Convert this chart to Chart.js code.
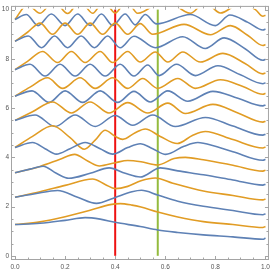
<!DOCTYPE html>
<html>
<head>
<meta charset="utf-8">
<script src="https://cdn.jsdelivr.net/npm/chart.js@4.4.1/dist/chart.umd.min.js"></script>
<style>
  html, body { margin: 0; padding: 0; background: #fff; }
</style>
</head>
<body>
<canvas id="plot" width="273" height="274"></canvas>
<script>
// ticks and marker lines
const xTicks = [0, 0.2, 0.4, 0.6, 0.8, 1.0];
const yTicks = [0, 2, 4, 6, 8, 10];
const redLineX = 0.4;
const greenLineX = 0.57;

// curves as [x, y] pairs (blue / orange pairs, bottom to top)
const blue1 = [[0,1.27],[0.1,1.32],[0.2,1.44],[0.28,1.55],[0.34,1.49],[0.4,1.36],[0.5,1.19],[0.57,1.05],[0.65,0.95],[0.752,0.85],[0.87,0.77],[0.99,0.67],[1,0.72]];
const orange1 = [[0,1.27],[0.1,1.38],[0.2,1.59],[0.3,1.85],[0.38,2.08],[0.42,2.12],[0.467,2.06],[0.503,1.98],[0.57,1.78],[0.65,1.58],[0.752,1.39],[0.87,1.27],[0.99,1.15],[1,1.19]];
const blue2 = [[0,2.38],[0.08,2.52],[0.17,2.65],[0.25,2.38],[0.325,2.13],[0.4,2.37],[0.467,2.6],[0.505,2.66],[0.57,2.47],[0.65,2.22],[0.752,2.01],[0.87,1.84],[0.99,1.67],[1,1.71]];
const orange2 = [[0,2.38],[0.1,2.6],[0.2,2.86],[0.31,3.12],[0.36,2.9],[0.4,2.73],[0.45,2.82],[0.503,3.05],[0.56,3.16],[0.63,2.95],[0.752,2.63],[0.87,2.45],[0.99,2.27],[1,2.31]];
const blue3 = [[0,3.37],[0.06,3.52],[0.112,3.64],[0.165,3.35],[0.215,3.15],[0.3,3.35],[0.376,3.57],[0.44,3.35],[0.5,3.2],[0.58,3.57],[0.65,3.45],[0.752,3.29],[0.87,3.08],[0.99,2.87],[1,2.91]];
const orange3 = [[0,3.37],[0.1,3.63],[0.18,3.92],[0.238,4.12],[0.29,3.85],[0.337,3.65],[0.4,3.78],[0.45,3.87],[0.503,3.82],[0.569,3.69],[0.635,3.95],[0.68,4.0],[0.752,3.9],[0.87,3.68],[0.99,3.44],[1,3.48]];
const blue4 = [[0,4.4],[0.07,4.6],[0.12,4.35],[0.165,4.13],[0.22,4.35],[0.28,4.6],[0.34,4.35],[0.39,4.13],[0.45,4.4],[0.5,4.55],[0.55,4.35],[0.602,4.12],[0.675,4.45],[0.73,4.6],[0.752,4.57],[0.87,4.23],[0.99,3.88],[1,3.92]];
const orange4 = [[0,4.4],[0.07,4.85],[0.15,5.28],[0.22,4.8],[0.277,4.33],[0.32,4.7],[0.36,5.1],[0.4,4.85],[0.43,4.73],[0.48,5.0],[0.52,5.15],[0.58,4.85],[0.648,4.56],[0.71,4.9],[0.76,5.05],[0.87,4.72],[0.99,4.38],[1,4.42]];
const blue5 = [[0,5.5],[0.08,5.72],[0.16,5.25],[0.24,5.72],[0.32,5.25],[0.4,5.7],[0.47,5.3],[0.55,5.72],[0.64,5.25],[0.76,5.62],[0.87,5.27],[0.99,4.9],[1,4.94]];
const orange5 = [[0,5.5],[0.07,5.85],[0.15,6.25],[0.225,5.8],[0.3,6.25],[0.375,5.8],[0.45,6.22],[0.53,5.8],[0.61,6.2],[0.68,5.78],[0.79,6.15],[0.89,5.8],[0.99,5.43],[1,5.47]];
const blue6 = [[0,6.48],[0.068,6.7],[0.136,6.23],[0.2,6.7],[0.27,6.23],[0.34,6.7],[0.41,6.23],[0.475,6.68],[0.54,6.25],[0.61,6.7],[0.69,6.28],[0.79,6.68],[0.89,6.4],[0.99,6.09],[1,6.13]];
const orange6 = [[0,6.48],[0.06,6.85],[0.13,7.23],[0.19,6.8],[0.26,7.23],[0.32,6.8],[0.39,7.23],[0.45,6.8],[0.51,7.2],[0.57,6.8],[0.65,7.2],[0.72,6.8],[0.82,7.15],[0.91,6.88],[0.99,6.56],[1,6.6]];
const blue7 = [[0,7.56],[0.06,7.78],[0.12,7.3],[0.18,7.78],[0.24,7.3],[0.3,7.78],[0.36,7.3],[0.42,7.78],[0.475,7.3],[0.53,7.75],[0.575,7.32],[0.645,7.78],[0.72,7.32],[0.81,7.72],[0.9,7.35],[0.99,6.99],[1,7.03]];
const orange7 = [[0,7.56],[0.05,7.9],[0.11,8.3],[0.17,7.85],[0.225,8.3],[0.28,7.85],[0.34,8.3],[0.39,7.85],[0.45,8.3],[0.5,7.87],[0.56,8.28],[0.61,7.87],[0.67,8.28],[0.74,7.87],[0.83,8.22],[0.92,7.8],[0.99,7.39],[1,7.43]];
const blue8 = [[0,8.71],[0.053,8.93],[0.106,8.45],[0.158,8.93],[0.21,8.45],[0.264,8.93],[0.317,8.45],[0.37,8.93],[0.42,8.45],[0.475,8.92],[0.56,8.45],[0.67,8.9],[0.76,8.42],[0.835,8.85],[0.92,8.4],[0.99,7.94],[1,7.98]];
const orange8 = [[0,8.71],[0.05,9.08],[0.1,9.45],[0.15,9.0],[0.2,9.45],[0.25,9.0],[0.3,9.45],[0.35,9.0],[0.4,9.45],[0.45,9.0],[0.5,9.43],[0.55,9.0],[0.675,9.4],[0.78,8.98],[0.86,9.35],[0.93,8.95],[0.99,8.54],[1,8.58]];
const blue9 = [[0,9.6],[0.045,9.8],[0.092,9.35],[0.145,9.82],[0.2,9.35],[0.25,9.82],[0.3,9.36],[0.345,9.82],[0.39,9.36],[0.44,9.82],[0.48,9.38],[0.52,9.8],[0.565,9.42],[0.7,9.8],[0.8,9.35],[0.858,9.78],[0.93,9.48],[0.99,9.17],[1,9.21]];
const orange9 = [[0,9.6],[0.05,10.2],[0.1,9.85],[0.155,10.35],[0.21,9.84],[0.26,10.35],[0.31,9.85],[0.355,10.35],[0.4,9.86],[0.445,10.35],[0.49,9.85],[0.6,10.4],[0.7,9.85],[0.76,10.3],[0.82,9.86],[0.9,10.25],[0.96,10.0],[0.99,9.73],[1,9.77]];

const BLUE = '#5e81b5';
const ORANGE = '#e19c24';
const curves = [
  [blue1, BLUE], [orange1, ORANGE], [blue2, BLUE], [orange2, ORANGE],
  [blue3, BLUE], [orange3, ORANGE], [blue4, BLUE], [orange4, ORANGE],
  [blue5, BLUE], [orange5, ORANGE], [blue6, BLUE], [orange6, ORANGE],
  [blue7, BLUE], [orange7, ORANGE], [blue8, BLUE], [orange8, ORANGE],
  [blue9, BLUE], [orange9, ORANGE]
];

const datasets = curves.map(([pts, col]) => ({
  data: pts.map(([x, y]) => ({ x, y })),
  borderColor: col,
  borderWidth: 1.6,
  pointRadius: 0,
  fill: false,
  cubicInterpolationMode: 'monotone'
}));
datasets.push({
  data: [{ x: redLineX, y: 0 }, { x: redLineX, y: 10 }],
  borderColor: '#ee1111', borderWidth: 2, pointRadius: 0
});
datasets.push({
  data: [{ x: greenLineX, y: 0 }, { x: greenLineX, y: 10 }],
  borderColor: '#94bb3e', borderWidth: 2, pointRadius: 0
});

// Mathematica-like frame with inward ticks, and clipping at the plot range
const framePlugin = {
  id: 'frame',
  afterDatasetsDraw(chart) {
    const { ctx, chartArea: a, scales: { y } } = chart;
    ctx.save();
    ctx.fillStyle = '#fff';
    ctx.fillRect(a.left, a.top - 2, a.right - a.left, y.getPixelForValue(10) - a.top + 2 - 0.8);
    ctx.restore();
  },
  afterDraw(chart) {
    const { ctx, chartArea: a, scales: { x, y } } = chart;
    ctx.save();
    ctx.strokeStyle = '#a4a4a4';
    ctx.lineWidth = 1;
    ctx.strokeRect(a.left + 0.5, a.top + 0.5, a.right - a.left - 1, a.bottom - a.top - 1);
    ctx.beginPath();
    for (let i = 0; i <= 20; i++) {
      const v = i * 0.05;
      const len = i % 4 === 0 ? 4 : 2.5;
      const px = Math.round(x.getPixelForValue(v)) + 0.5;
      ctx.moveTo(px, a.bottom); ctx.lineTo(px, a.bottom - len);
      ctx.moveTo(px, a.top); ctx.lineTo(px, a.top + len);
    }
    for (let i = 0; i <= 20; i++) {
      const v = i * 0.5;
      const len = i % 4 === 0 ? 4 : 2.5;
      const py = Math.round(y.getPixelForValue(v)) + 0.5;
      ctx.moveTo(a.left, py); ctx.lineTo(a.left + len, py);
      ctx.moveTo(a.right, py); ctx.lineTo(a.right - len, py);
    }
    ctx.stroke();
    ctx.restore();
  }
};

const tickFont = { family: 'Liberation Sans', size: 6.5 };

new Chart(document.getElementById('plot'), {
  type: 'line',
  data: { datasets },
  options: {
    responsive: false,
    devicePixelRatio: 1,
    animation: false,
    events: [],
    layout: { padding: { top: 1, right: 2, left: 0, bottom: 0 } },
    plugins: { legend: { display: false }, tooltip: { enabled: false } },
    scales: {
      x: {
        type: 'linear', min: -0.016, max: 1.014,
        afterBuildTicks: s => { s.ticks = xTicks.map(v => ({ value: v })); },
        afterFit: s => { s.height = 14; },
        grid: { display: false, drawTicks: false }, border: { display: false },
        ticks: { color: '#555', font: tickFont, padding: 3, maxRotation: 0, autoSkip: false, callback: v => v.toFixed(1) }
      },
      y: {
        type: 'linear', min: -0.17, max: 10.15,
        afterBuildTicks: s => { s.ticks = yTicks.map(v => ({ value: v })); },
        afterFit: s => { s.width = 11; },
        grid: { display: false, drawTicks: false }, border: { display: false },
        ticks: { color: '#555', font: tickFont, padding: 2, autoSkip: false, callback: v => String(v) }
      }
    }
  },
  plugins: [framePlugin]
});
</script>
</body>
</html>
